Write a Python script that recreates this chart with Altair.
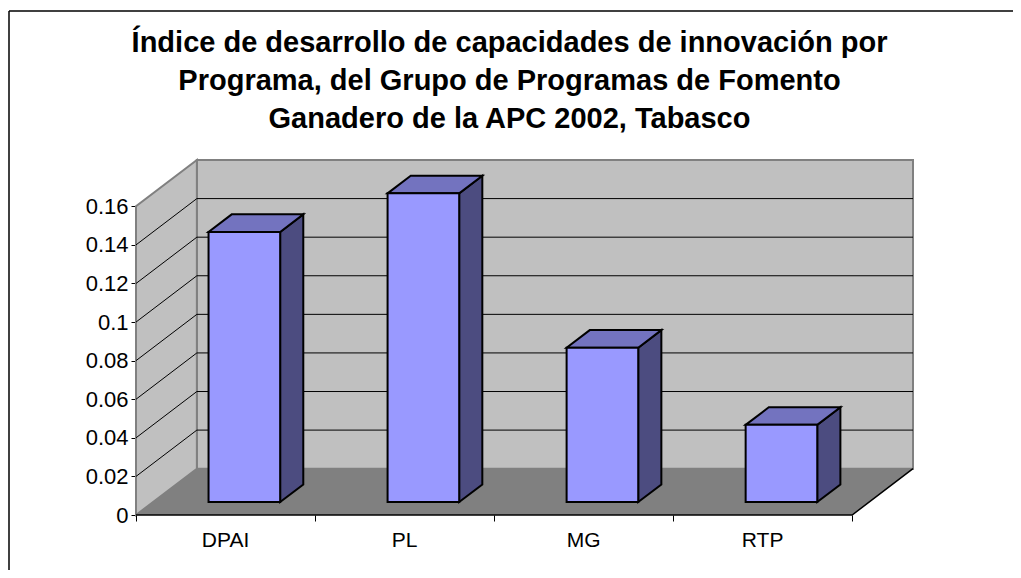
import altair as alt
import pandas as pd

# ---- data ----
categories = ["DPAI", "PL", "MG", "RTP"]
values = [0.14, 0.16, 0.08, 0.04]
tick_values = [0, 0.02, 0.04, 0.06, 0.08, 0.1, 0.12, 0.14, 0.16]
title_lines = [
    "Índice de desarrollo de capacidades de innovación por",
    "Programa, del Grupo de Programas de Fomento",
    "Ganadero de la APC 2002, Tabasco",
]

# ---- 3D projection / style constants ----
DX = 0.34      # depth offset in category units
DY = 0.024     # depth offset in value units
Z0, Z1 = 0.28, 0.66   # bar depth (front, back)
BL, BR = 0.31, 0.71   # bar left/right inside a category
N = len(categories)
TOP = tick_values[-1]
FONT = "Liberation Sans"

W, H = 777, 355
XDOM = [0, N + DX]
YDOM = [0, TOP + DY]

xaxis = alt.Axis(title=None, values=list(range(N + 1)), labels=False, ticks=True,
                 tickSize=6, tickColor="black", domain=False, grid=False)
yaxis = alt.Axis(title=None, values=tick_values, format=".2~f", ticks=True, tickSize=5,
                 tickColor="black", domain=False, grid=False, labelFont=FONT,
                 labelFontSize=22, labelColor="black", labelPadding=3)


def X(f="x"):
    return alt.X(f"{f}:Q", scale=alt.Scale(domain=XDOM, nice=False, zero=False), axis=xaxis)


def Y(f="y"):
    return alt.Y(f"{f}:Q", scale=alt.Scale(domain=YDOM, nice=False, zero=False), axis=yaxis)


# back wall
back_df = pd.DataFrame({"x": [DX], "x2": [N + DX], "y": [DY], "y2": [TOP + DY]})
back = alt.Chart(back_df).mark_rect(fill="#C0C0C0", stroke="#808080", strokeWidth=2).encode(
    x=X(), x2="x2:Q", y=Y(), y2="y2:Q")

# left wall
left_df = pd.DataFrame({"x": [0, DX], "y": [0, DY], "y2": [TOP, TOP + DY]})
left = alt.Chart(left_df).mark_area(color="#C0C0C0", stroke="#808080", strokeWidth=2,
                                    orient="vertical").encode(
    x=X(), y=Y(), y2="y2:Q")

# floor
floor_df = pd.DataFrame({"y": [0, DY], "x": [0, DX], "x2": [N, N + DX]})
floor = alt.Chart(floor_df).mark_area(color="#808080", orient="horizontal").encode(
    y=Y(), x=X(), x2="x2:Q")

# gridlines (left wall diagonal + back wall)
g_rows = []
for v in tick_values[1:-1]:
    for k, (gx, gy) in enumerate([(0, v), (DX, v + DY), (N + DX, v + DY)]):
        g_rows.append({"x": gx, "y": gy, "g": v, "o": k})
grid = alt.Chart(pd.DataFrame(g_rows)).mark_line(color="black", strokeWidth=1).encode(
    x=X(), y=Y(), detail="g:N", order="o:Q")

# front & right floor edge
edge_df = pd.DataFrame({"x": [0, N, N + DX], "y": [0, 0, DY], "o": [0, 1, 2]})
edge = alt.Chart(edge_df).mark_line(color="black", strokeWidth=1.5).encode(
    x=X(), y=Y(), order="o:Q")

# bars
front_rows, side_rows, top_rows = [], [], []
for i, (c, v) in enumerate(zip(categories, values)):
    front_rows.append({"cat": c, "x": i + BL + Z0 * DX, "x2": i + BR + Z0 * DX,
                       "y": Z0 * DY, "y2": v + Z0 * DY})
    for z in (Z0, Z1):
        side_rows.append({"cat": c, "x": i + BR + z * DX, "y": z * DY, "y2": v + z * DY})
        top_rows.append({"cat": c, "y": v + z * DY, "x": i + BL + z * DX, "x2": i + BR + z * DX})

side = alt.Chart(pd.DataFrame(side_rows)).mark_area(
    color="#4C4C80", stroke="black", strokeWidth=2, orient="vertical").encode(
    x=X(), y=Y(), y2="y2:Q", detail="cat:N")
top = alt.Chart(pd.DataFrame(top_rows)).mark_area(
    color="#7373BF", stroke="black", strokeWidth=2, orient="horizontal").encode(
    y=Y(), x=X(), x2="x2:Q", detail="cat:N")
front = alt.Chart(pd.DataFrame(front_rows)).mark_rect(
    fill="#9999FF", stroke="black", strokeWidth=2).encode(
    x=X(), x2="x2:Q", y=Y(), y2="y2:Q")

# category labels
lab_df = pd.DataFrame({"cat": categories, "x": [i + 0.5 for i in range(N)], "y": [0] * N})
labels = alt.Chart(lab_df).mark_text(font=FONT, fontSize=21, color="black", baseline="alphabetic",
                                     align="center", dy=32).encode(
    x=X(), y=Y(), text="cat:N")

# title
title_df = pd.DataFrame({"t": ["\n".join(title_lines)]})
title = alt.Chart(title_df).mark_text(font=FONT, fontSize=29, fontWeight="bold", color="black",
                                      align="center", baseline="alphabetic", lineBreak="\n",
                                      lineHeight=38).encode(
    x=alt.value(373.5), y=alt.value(-108), text="t:N")

# outer chart border
bdf = pd.DataFrame({"a": [0]})
border_l = alt.Chart(bdf).mark_rule(color="black", strokeWidth=1.5).encode(
    x=alt.value(-127), y=alt.value(-149), y2=alt.value(430))
border_t = alt.Chart(bdf).mark_rule(color="black", strokeWidth=1.5).encode(
    x=alt.value(-127), x2=alt.value(900), y=alt.value(-149))

chart = alt.layer(back, left, floor, grid, edge, side, top, front, labels, title,
                  border_l, border_t).properties(
    width=W, height=H,
    autosize=alt.AutoSizeParams(type="none"),
    padding={"left": 128, "top": 152, "right": 100, "bottom": 55},
).configure_view(strokeWidth=0)

chart.save("out.html", embed_options={"renderer": "svg", "actions": False})
